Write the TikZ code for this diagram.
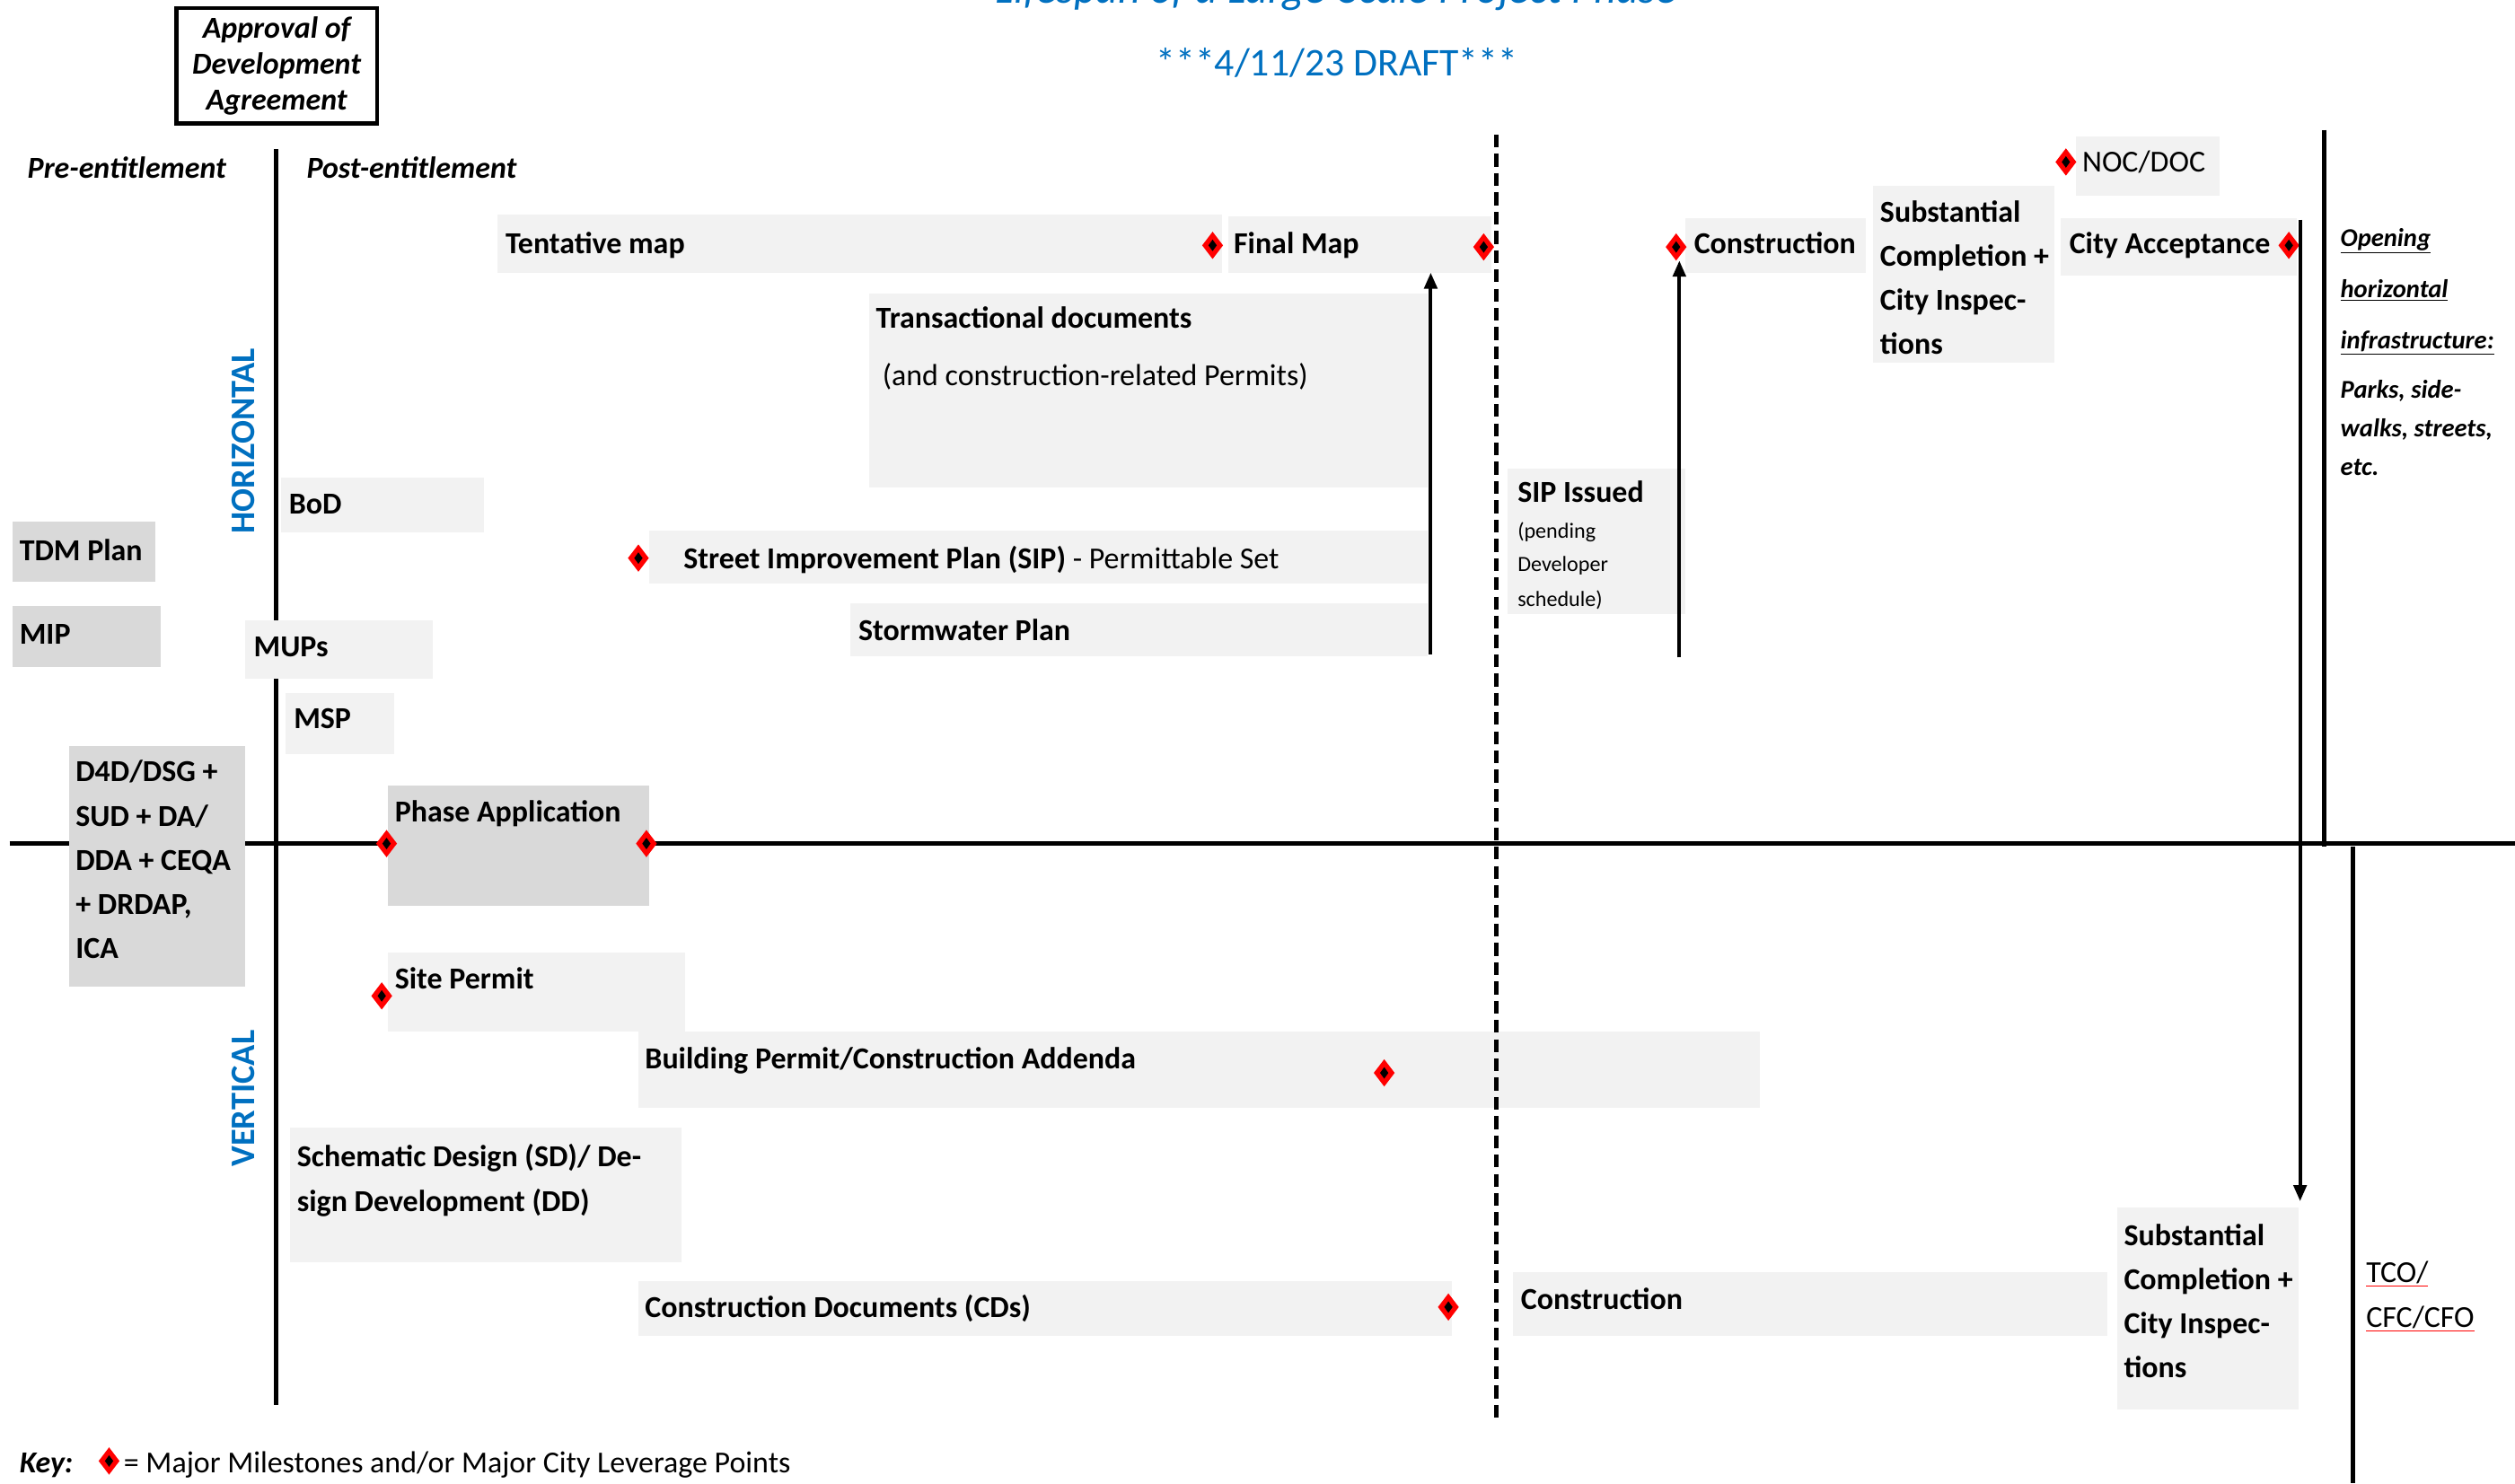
\documentclass[tikz,border=0pt]{standalone}
\usepackage{fontspec}
\setmainfont{Carlito}
\usetikzlibrary{arrows.meta,shapes.geometric}
\definecolor{boxl}{HTML}{F2F2F2}
\definecolor{boxd}{HTML}{D9D9D9}
\definecolor{ttl}{HTML}{0070C0}
\definecolor{mred}{HTML}{FF0000}
\begin{document}
\begin{tikzpicture}[x=1pt,y=-1pt,
  lbox/.style={fill=boxl, inner sep=0pt, outer sep=0pt, anchor=north west},
  dbox/.style={fill=boxd, inner sep=0pt, outer sep=0pt, anchor=north west},
  lbl/.style={anchor=mid west, inner sep=0pt, yshift=-4pt, font=\fontsize{19}{23}\selectfont\bfseries},
  rlbl/.style={anchor=mid west, inner sep=0pt, yshift=-4pt, font=\fontsize{19}{23}\selectfont},
  slbl/.style={anchor=mid west, inner sep=0pt, yshift=-2pt, font=\fontsize{13.5}{16}\selectfont},
  mlbl/.style={anchor=north west, inner sep=0pt, align=left, font=\fontsize{19}{27.5}\selectfont\bfseries},
  axisline/.style={line width=2.6pt},
  flow/.style={line width=2.2pt, -{Triangle[length=10pt,width=8pt]}},
  milestone/.style={diamond, fill=mred, inner sep=0pt, outer sep=0pt, minimum width=13pt, minimum height=17pt,
    path picture={\fill[black] ([xshift=-2.6pt]path picture bounding box.center) -- ([yshift=3.6pt]path picture bounding box.center) -- ([xshift=2.6pt]path picture bounding box.center) -- ([yshift=-3.6pt]path picture bounding box.center) -- cycle;}},
  vlabel/.style={rotate=90, inner sep=0pt, text=ttl, font=\fontsize{21.5}{24}\selectfont\bfseries},
]
\useasboundingbox (0,0) rectangle (1568,925);

% ---- title ----
\node[anchor=base, inner sep=0pt, text=ttl, font=\fontsize{27}{31}\selectfont\itshape] (title) at (833,2) {Lifespan of a Large-Scale Project Phase};
\node[anchor=mid, inner sep=0pt, text=ttl, font=\fontsize{24.5}{28}\selectfont] (draft) at (833.5,45) {***4/11/23 DRAFT***};

% ---- main axes ----
\coordinate (lvT) at (172,93);
\coordinate (lvB) at (172,876);
\coordinate (hL) at (6,526);
\coordinate (hR) at (1568,526);
\coordinate (rvT) at (1449,81);
\coordinate (rvB) at (1449,528);
\coordinate (bvT) at (1467,528);
\coordinate (bvB) at (1467,925);
\coordinate (dvT) at (933,84);
\coordinate (dvB) at (933,885);
\draw[axisline] (lvT) -- (lvB);
\draw[axisline] (hL) -- (hR);
\draw[axisline] (rvT) -- (rvB);
\draw[axisline] (bvT) -- (bvB);

% ---- boxes ----
\node[lbox, minimum width=90pt,  minimum height=37pt]  (noc)   at (1294,85) {};
\node[lbox, minimum width=147pt, minimum height=36pt]  (cacc)  at (1285,136) {};
\node[lbox, minimum width=113pt, minimum height=110pt] (sub1)  at (1168,116) {};
\node[lbox, minimum width=112pt, minimum height=34pt]  (con1)  at (1051,136) {};
\node[lbox, minimum width=111pt, minimum height=91pt]  (sipi)  at (940,292) {};
\node[lbox, minimum width=164pt, minimum height=35pt]  (fmap)  at (766,135) {};
\node[lbox, minimum width=452pt, minimum height=36pt]  (tent)  at (310,134) {};
\node[lbox, minimum width=348pt, minimum height=121pt] (trans) at (542,183) {};
\node[lbox, minimum width=127pt, minimum height=34pt]  (bod)   at (175,298) {};
\node[lbox, minimum width=485pt, minimum height=33pt]  (sip)   at (405,331) {};
\node[lbox, minimum width=360pt, minimum height=33pt]  (storm) at (530,376) {};
\node[dbox, minimum width=89pt,  minimum height=38pt]  (tdm)   at (8,325) {};
\node[dbox, minimum width=92pt,  minimum height=38pt]  (mip)   at (8,378) {};
\node[lbox, minimum width=117pt, minimum height=36pt]  (mups)  at (153,387) {};
\node[lbox, minimum width=68pt,  minimum height=38pt]  (msp)   at (178,432) {};
\node[dbox, minimum width=110pt, minimum height=150pt] (d4d)   at (43,465) {};
\node[dbox, minimum width=163pt, minimum height=75pt]  (phase) at (242,490) {};
\node[lbox, minimum width=185pt, minimum height=49pt]  (site)  at (242,594) {};
\node[lbox, minimum width=699pt, minimum height=48pt]  (bldg)  at (398,643) {};
\node[lbox, minimum width=244pt, minimum height=84pt]  (sd)    at (181,703) {};
\node[lbox, minimum width=507pt, minimum height=34pt]  (cds)   at (398,799) {};
\node[lbox, minimum width=371pt, minimum height=40pt]  (con2)  at (943,793) {};
\node[lbox, minimum width=113pt, minimum height=126pt] (sub2)  at (1320,753) {};

% ---- dashed divider ----
\draw[line width=2.6pt, dash pattern=on 8pt off 4pt] (dvT) -- (dvB);

% ---- approval box ----
\node[draw, line width=2.5pt, minimum width=125pt, minimum height=72pt, inner sep=0pt, align=center,
      font=\fontsize{19}{22.5}\selectfont\bfseries\itshape] (appr) at (172.5,41) {Approval of\\Development\\Agreement};

% ---- milestones ----
\node[milestone] (m1)  at (756,153) {};
\node[milestone] (m2)  at (925,154) {};
\node[milestone] (m3)  at (1045,154) {};
\node[milestone] (m4)  at (1288,101) {};
\node[milestone] (m5)  at (1427,153) {};
\node[milestone] (m6)  at (398,348) {};
\node[milestone] (m7)  at (241,526) {};
\node[milestone] (m8)  at (403,526) {};
\node[milestone] (m9)  at (238,621) {};
\node[milestone] (m10) at (863,669) {};
\node[milestone] (m11) at (903,815) {};
\node[milestone] (keyd) at (68,911) {};

% ---- arrows ----
\coordinate (a1) at (892,408);
\coordinate (a2) at (1047,410);
\coordinate (a3) at (1434,137);
\draw[flow] (a1) -- (a1 |- fmap.south);
\draw[flow] (a2) -- (a2 |- m3.south);
\draw[flow, shorten >=4pt] (a3) -- (a3 |- sub2.north);

% ---- headers ----
\node[anchor=mid west, inner sep=0pt, yshift=-4pt, font=\fontsize{19}{23}\selectfont\bfseries\itshape] (pre)  at (17,105) {Pre-entitlement};
\node[anchor=mid west, inner sep=0pt, yshift=-4pt, font=\fontsize{19}{23}\selectfont\bfseries\itshape] (post) at (191,105) {Post-entitlement};
\node[vlabel] (horiz) at (152,275) {HORIZONTAL};
\node[vlabel] (vert)  at (152,685) {VERTICAL};

% ---- labels ----
\node[lbl]  (tTent)  at (315,152) {Tentative map};
\node[lbl]  (tFmap)  at (769,152) {Final Map};
\node[lbl]  (tCon1)  at (1056,152) {Construction};
\node[lbl]  (tCacc)  at (1290,152) {City Acceptance};
\node[rlbl] (tNoc)   at (1298,101) {NOC/DOC};
\node[lbl]  (tTrans) at (546,198) {Transactional documents};
\node[rlbl] (tTrans2) at (550,234) {(and construction-related Permits)};
\node[lbl]  (tBod)   at (180,314) {BoD};
\node[lbl]  (tSip)   at (426,348) {Street Improvement Plan (SIP)\textmd{ - Permittable Set}};
\node[lbl]  (tStorm) at (535,393) {Stormwater Plan};
\node[lbl]  (tTdm)   at (12,343) {TDM Plan};
\node[lbl]  (tMip)   at (12,395) {MIP};
\node[lbl]  (tMups)  at (158,403) {MUPs};
\node[lbl]  (tMsp)   at (183,448) {MSP};
\node[lbl]  (tPhase) at (246,506) {Phase Application};
\node[lbl]  (tSite)  at (246,610) {Site Permit};
\node[lbl]  (tBldg)  at (402,660) {Building Permit/Construction Addenda};
\node[lbl]  (tCds)   at (402,815) {Construction Documents (CDs)};
\node[lbl]  (tCon2)  at (948,810) {Construction};
\node[lbl]  (tSipi)  at (946,307) {SIP Issued};
\node[slbl] (tSipi2) at (946,331) {(pending};
\node[slbl] (tSipi3) at (946,352) {Developer};
\node[slbl] (tSipi4) at (946,374) {schedule)};
\node[mlbl] (tSub1)  at (1172,125) {Substantial\\Completion +\\City Inspec-\\tions};
\node[mlbl] (tSub2)  at (1324,763) {Substantial\\Completion +\\City Inspec-\\tions};
\node[mlbl] (tD4d)   at (47,474) {D4D/DSG +\\SUD + DA/\\DDA + CEQA\\+ DRDAP,\\ICA};
\node[mlbl, font=\fontsize{19}{28}\selectfont\bfseries] (tSd) at (185,713) {Schematic Design (SD)/ De-\\sign Development (DD)};

\node[anchor=north west, inner sep=0pt, align=left, font=\fontsize{16}{32}\selectfont\bfseries\itshape] (tOpen) at (1459,142)
  {\underline{Opening}\\\underline{horizontal}\\\underline{infrastructure:}};
\node[anchor=north west, inner sep=0pt, align=left, font=\fontsize{16}{24}\selectfont\bfseries\itshape] (tParks) at (1459,237)
  {Parks, side-\\walks, streets,\\etc.};
\node[anchor=north west, inner sep=0pt, align=left, font=\fontsize{19}{28}\selectfont] (tTco) at (1475,786)
  {\textcolor{mred}{\underline{\textcolor{black}{TCO/}}}\\\textcolor{mred}{\underline{\textcolor{black}{CFC/CFO}}}};

% ---- key ----
\node[anchor=mid west, inner sep=0pt, yshift=-4pt, font=\fontsize{19}{23}\selectfont\bfseries\itshape] (tKey) at (12,912) {Key:};
\node[rlbl] (tKeyTxt) at (77,912) {= Major Milestones and/or Major City Leverage Points};
\end{tikzpicture}
\end{document}
